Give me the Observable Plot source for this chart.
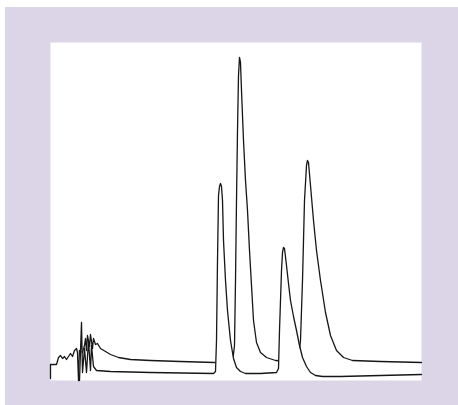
<!DOCTYPE html>
<html>
<head>
<meta charset="utf-8">
<script src="https://cdn.jsdelivr.net/npm/d3@7"></script>
<script src="https://cdn.jsdelivr.net/npm/@observablehq/plot@0.6"></script>
<style>
  html, body { margin: 0; padding: 0; background: #ffffff; }
  #panel { position: absolute; left: 5px; top: 7px; width: 453px; height: 398px; background: #dcd5e8; }
  #panel svg { display: block; background: transparent; }
</style>
</head>
<body>
<div id="panel"></div>
<script>
// Chromatogram traces: retention time (min) and detector signal (mV)
const backTime = [0, 0, 0.6, 0.8, 1.0, 1.2, 1.4, 1.6, 1.8, 2.0, 2.2, 2.4, 2.6, 2.7, 2.8, 2.9, 3.2, 3.4, 3.5, 3.6, 3.7, 3.9, 4.0, 4.2, 4.3, 4.5, 4.7, 5.0, 5.5, 6.0, 6.8, 8.0, 10.0, 13.0, 16.4, 18.2, 18.4, 18.5, 18.6, 18.7, 18.8, 18.9, 19.0, 19.1, 19.3, 19.5, 19.7, 19.9, 20.1, 20.3, 20.6, 21.0, 21.6, 22.5, 24.0, 24.8, 25.0, 25.2, 25.4, 25.6, 25.7, 25.8, 26.0, 26.3, 26.6, 27.0, 27.5, 28.0, 28.6, 29.3, 30.2, 33.0, 37.1];
const backSignal = [0.2, 1.6, 1.6, 2.3, 2.5, 2.2, 2.4, 2.1, 2.4, 2.7, 2.4, 3.0, 3.2, 2.8, 0.0, 3.0, 2.8, 3.5, 4.2, 3.0, 4.5, 3.4, 4.6, 3.2, 4.2, 3.6, 3.7, 3.2, 2.9, 2.6, 2.3, 2.1, 2.0, 1.9, 1.8, 1.8, 3.5, 10.0, 18.0, 25.0, 30.5, 32.3, 31.8, 29.0, 24.0, 20.0, 17.0, 13.0, 9.5, 6.0, 3.8, 2.8, 2.3, 2.0, 1.9, 2.0, 4.0, 10.0, 18.0, 21.5, 22.0, 21.8, 19.5, 16.0, 13.0, 10.0, 6.8, 4.5, 3.0, 2.3, 2.0, 1.9, 1.8];

const frontTime = [2.9, 3.1, 3.2, 3.4, 3.6, 3.8, 4.0, 4.1, 4.3, 4.6, 6.0, 10.0, 16.3, 16.5, 16.6, 16.7, 16.8, 16.9, 17.0, 17.1, 17.2, 17.3, 17.5, 17.7, 18.0, 18.3, 18.6, 19.0, 19.5, 21.0, 22.6, 22.8, 22.9, 23.1, 23.2, 23.3, 23.4, 23.6, 23.8, 24.0, 24.3, 24.6, 24.9, 25.2, 25.6, 26.0, 26.5, 27.2, 29.0, 33.0, 37.1];
const frontSignal = [0.0, 5.8, 0.8, 3.2, 0.8, 4.0, 1.0, 3.5, 1.4, 1.0, 0.9, 0.8, 0.7, 0.9, 4.0, 12.0, 18.5, 19.4, 19.7, 19.4, 18.0, 14.0, 10.0, 7.0, 4.0, 2.2, 1.3, 0.9, 0.7, 0.7, 0.8, 1.2, 5.0, 11.0, 12.8, 13.3, 13.2, 11.5, 9.7, 8.0, 6.4, 5.0, 3.5, 2.3, 1.4, 0.8, 0.5, 0.4, 0.4, 0.5, 0.6];

const back = backTime.map((t, i) => ({t, s: backSignal[i]}));
const front = frontTime.map((t, i) => ({t, s: frontSignal[i]}));

const ink = "#161616";
const chart = Plot.plot({
  width: 453,
  height: 398,
  marginLeft: 45,
  marginTop: 35,
  marginRight: 37,
  marginBottom: 25,
  x: {domain: [0, 37.1], axis: null},
  y: {domain: [0, 33.8], axis: null},
  marks: [
    Plot.frame({fill: "white", stroke: null}),
    Plot.line(back, {x: "t", y: "s", stroke: ink, strokeWidth: 1.3}),
    Plot.areaY(front, {x: "t", y: "s", fill: "white"}),
    Plot.line(front, {x: "t", y: "s", stroke: ink, strokeWidth: 1.3})
  ]
});
document.getElementById("panel").appendChild(chart);
</script>
</body>
</html>
